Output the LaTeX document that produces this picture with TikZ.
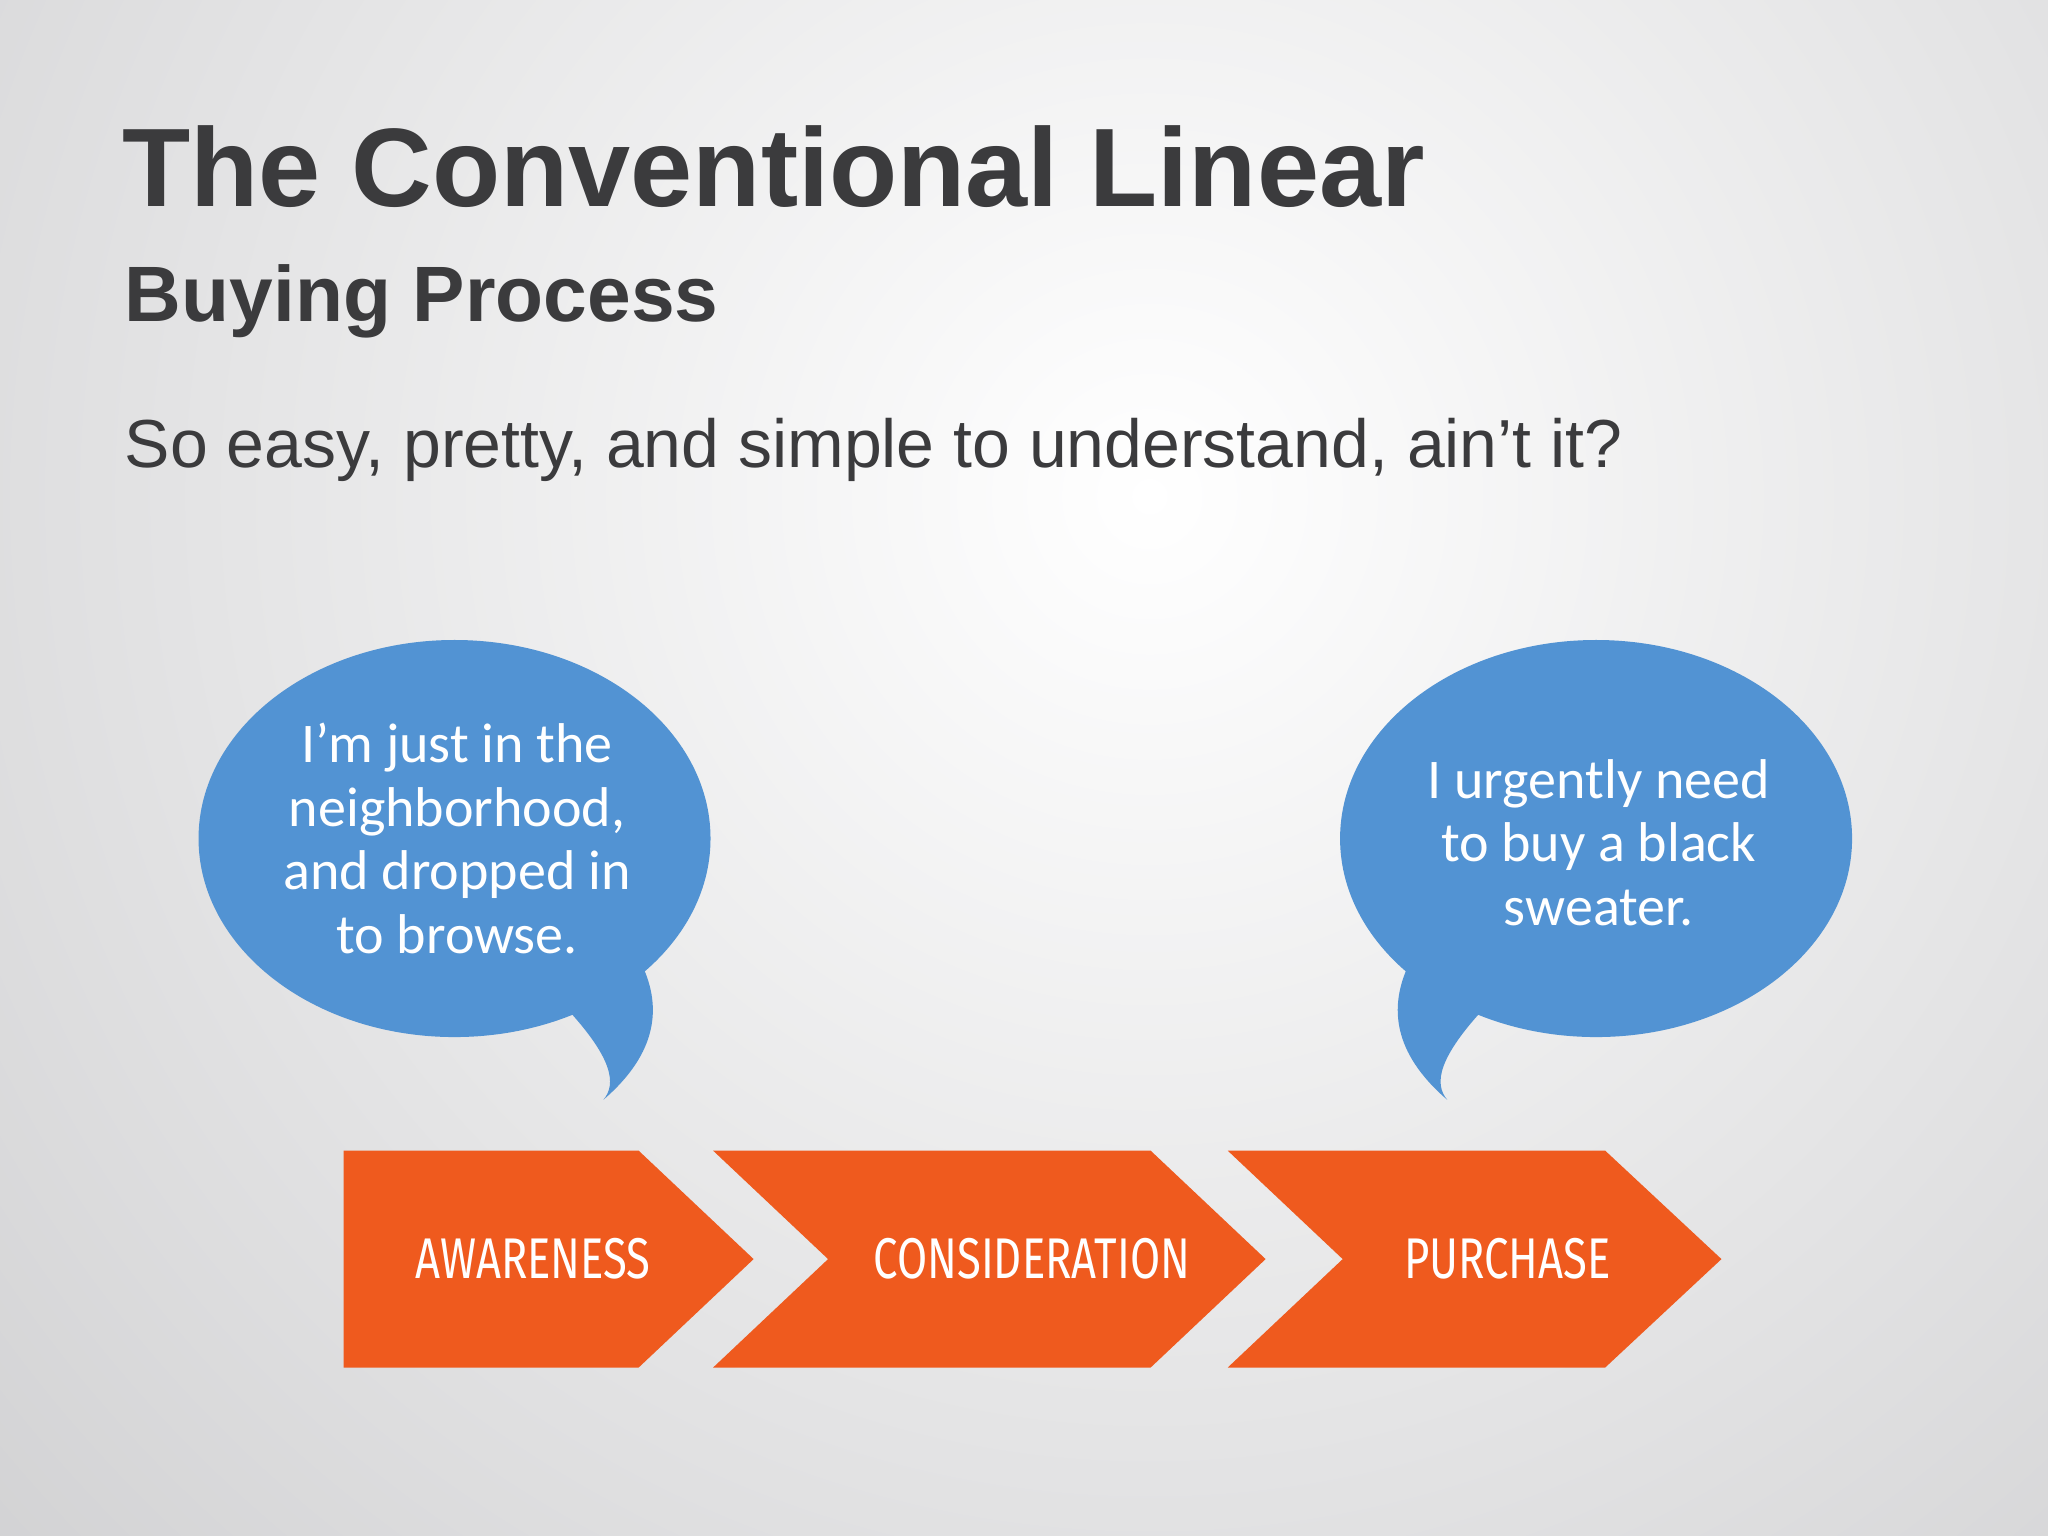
\documentclass[tikz,border=0pt]{standalone}
\usepackage{fontspec}
\setmainfont{Liberation Sans}
\newfontfamily\bubfont{Carlito}
\newfontfamily\chevfont[FakeStretch=0.76]{Fira Sans}
\definecolor{bub}{HTML}{5293D3}
\definecolor{orng}{HTML}{EF5A1E}
\definecolor{ttl}{HTML}{3B3B3D}
\definecolor{bg}{HTML}{C9C9CB}
\begin{document}
\begin{tikzpicture}[x=0.01cm,y=-0.01cm,
  bubtxt/.style={text=white,font=\bubfont\fontsize{12.2}{13.8}\selectfont,align=center},
  chevtxt/.style={text=white,font=\chevfont\fontsize{12.5}{15}\selectfont},
  chev/.style={fill=orng}]
\useasboundingbox (0,0) rectangle (1568,1176);
\fill[bg] (0,0) rectangle (1568,1176);
\begin{scope}
\clip (0,0) rectangle (1568,1176);
\shade[inner color=white,outer color=bg] (880,380) circle (1450);
\end{scope}
\node[anchor=base west,inner sep=0,text=ttl,font=\bfseries\fontsize{24.3}{28}\selectfont] (t1) at (93,158) {The Conventional Linear};
\node[anchor=base west,inner sep=0,text=ttl,font=\bfseries\fontsize{17.1}{20}\selectfont] (t2) at (95,246) {Buying Process};
\node[anchor=base west,inner sep=0,text=ttl,font=\fontsize{14.8}{17}\selectfont] (t3) at (95,358) {So easy, pretty, and simple to understand, ain’t it?};
% bubbles
\fill[bub] (348,642) ellipse [x radius=196,y radius=152];
\fill[bub] (430,768) .. controls (470,810) and (472,830) .. (462,842) .. controls (505,805) and (505,770) .. (493,742) -- cycle;
\fill[bub] (1222,642) ellipse [x radius=196,y radius=152];
\fill[bub] (1140,768) .. controls (1100,810) and (1098,830) .. (1108,842) .. controls (1065,805) and (1065,770) .. (1077,742) -- cycle;
\node[bubtxt] (b1) at (350,642) {I’m just in the\\neighborhood,\\and dropped in\\to browse.};
\node[bubtxt] (b2) at (1224,645) {I urgently need\\to buy a black\\sweater.};
% chevrons
\fill[chev] (263,881) -- (489,881) -- (577,964) -- (489,1047) -- (263,1047) -- cycle;
\fill[chev] (546,881) -- (881,881) -- (969,964) -- (881,1047) -- (546,1047) -- (634,964) -- cycle;
\fill[chev] (940,881) -- (1229,881) -- (1318,964) -- (1229,1047) -- (940,1047) -- (1028,964) -- cycle;
\node[chevtxt] (c1) at (408,964) {AWARENESS};
\node[chevtxt] (c2) at (790,964) {CONSIDERATION};
\node[chevtxt] (c3) at (1154,964) {PURCHASE};
\end{tikzpicture}
\end{document}
